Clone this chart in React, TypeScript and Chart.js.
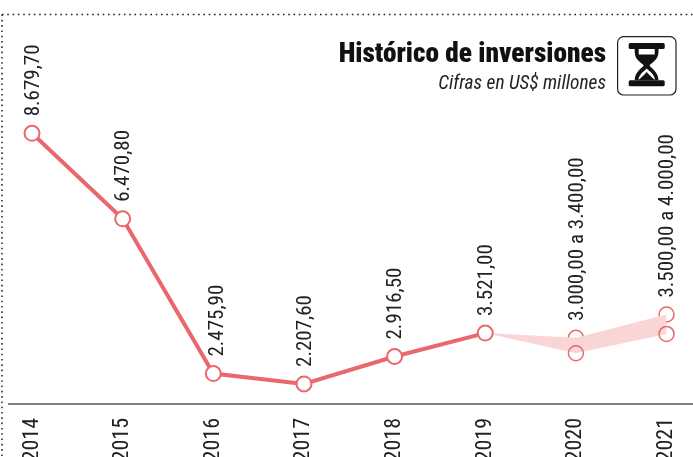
import React, { useEffect, useRef } from "react";
import { Chart, registerables } from "chart.js";

Chart.register(...registerables);

const years = [2014, 2015, 2016, 2017, 2018, 2019, 2020, 2021];
const actualValues = [8679.7, 6470.8, 2475.9, 2207.6, 2916.5, 3521.0];
const rangeYears = [2019, 2020, 2021];
const rangeLow = [3521.0, 3000.0, 3500.0];
const rangeHigh = [3521.0, 3400.0, 4000.0];
const valueLabels = [
  "8.679,70",
  "6.470,80",
  "2.475,90",
  "2.207,60",
  "2.916,50",
  "3.521,00",
  "3.000,00 a 3.400,00",
  "3.500,00 a 4.000,00",
];
const labelAnchors = [8679.7, 6470.8, 2475.9, 2207.6, 2916.5, 3521.0, 3400.0, 4000.0];
const labelShiftX = [0, 0, 3, 0, 0, 0, 0, 0];

const RED = "#e9686d";
const NARROW = '"Roboto Condensed", "Liberation Sans", sans-serif';

const decorPlugin = {
  id: "decor",
  afterDatasetsDraw(chart: any) {
    const { ctx, scales } = chart;
    ctx.save();
    // dotted frame
    ctx.strokeStyle = "#222";
    ctx.lineWidth = 1.5;
    ctx.setLineDash([1.6, 3.7]);
    ctx.beginPath();
    ctx.moveTo(2, 14.5);
    ctx.lineTo(693, 14.5);
    ctx.moveTo(2, 14.5);
    ctx.lineTo(2, 457);
    ctx.stroke();
    ctx.setLineDash([]);
    // value labels, rotated
    ctx.fillStyle = "#222";
    ctx.font = `21px ${NARROW}`;
    ctx.textAlign = "left";
    ctx.textBaseline = "middle";
    valueLabels.forEach((t, i) => {
      const x = scales.x.getPixelForValue(years[i]) + 1.5 + labelShiftX[i];
      const y = scales.y.getPixelForValue(labelAnchors[i]);
      ctx.save();
      ctx.translate(x, y - 17);
      ctx.rotate(-Math.PI / 2);
      ctx.fillText(t, 0, 0);
      ctx.restore();
    });
    ctx.restore();
  },
};

export default function App() {
  const ref = useRef<HTMLCanvasElement>(null);
  useEffect(() => {
    document.body.style.margin = "0";
    document.body.style.background = "#fff";
    const chart = new Chart(ref.current as HTMLCanvasElement, {
      type: "line",
      data: {
        datasets: [
          {
            data: actualValues.map((y, i) => ({ x: years[i], y })),
            borderColor: RED,
            borderWidth: 4,
            backgroundColor: "#ffffff",
            pointBackgroundColor: "#ffffff",
            pointBorderColor: RED,
            pointBorderWidth: 2,
            pointRadius: 7.5,
            tension: 0,
          },
          {
            data: rangeLow.map((y, i) => ({ x: rangeYears[i], y })),
            borderWidth: 0,
            borderColor: "transparent",
            backgroundColor: "#fad5d5",
            fill: "+1",
            pointBackgroundColor: "transparent",
            pointBorderColor: RED,
            pointBorderWidth: 1.5,
            pointRadius: [0, 7.5, 7.5],
            tension: 0,
          },
          {
            data: rangeHigh.map((y, i) => ({ x: rangeYears[i], y })),
            borderWidth: 0,
            borderColor: "transparent",
            backgroundColor: "#fad5d5",
            pointBackgroundColor: "transparent",
            pointBorderColor: RED,
            pointBorderWidth: 1.5,
            pointRadius: [0, 7.5, 7.5],
            tension: 0,
          },
        ],
      } as any,
      options: {
        animation: false,
        responsive: false,
        layout: { autoPadding: false, padding: { left: 9, right: 0, top: 0, bottom: 0 } },
        plugins: { legend: { display: false }, tooltip: { enabled: false } },
        scales: {
          x: {
            type: "linear",
            min: 2013.746,
            max: 2021.292,
            afterBuildTicks(axis: any) {
              axis.ticks = years.map((value) => ({ value }));
            },
            afterFit(axis: any) {
              axis.height = 53;
              axis.paddingLeft = 0;
              axis.paddingRight = 0;
            },
            grid: { display: false, drawTicks: false },
            border: { display: true, color: "#808080", width: 2 },
            ticks: {
              autoSkip: false,
              minRotation: 90,
              maxRotation: 90,
              padding: 14,
              color: "#222",
              font: { family: NARROW, size: 22 },
              callback: (v: any) => String(v),
            },
          },
          y: { display: false, min: 1690, max: 12122 },
        },
      } as any,
      plugins: [decorPlugin],
    });
    return () => chart.destroy();
  }, []);

  return (
    <div style={{ position: "relative", width: 693, height: 457, overflow: "hidden" }}>
      <canvas ref={ref} width={693} height={457} style={{ display: "block" }} />
      <div
        style={{
          position: "absolute",
          right: 87,
          top: 37,
          fontFamily: NARROW,
          fontWeight: 900,
          fontSize: 27.3,
          lineHeight: "32px",
          color: "#111",
          whiteSpace: "nowrap",
        }}
      >
        Histórico de inversiones
      </div>
      <div
        style={{
          position: "absolute",
          right: 87,
          top: 73,
          fontFamily: NARROW,
          fontStyle: "italic",
          fontSize: 19.4,
          lineHeight: "20px",
          color: "#222",
          whiteSpace: "nowrap",
        }}
      >
        Cifras en US$ millones
      </div>
      <svg
        width="60"
        height="60"
        viewBox="0 0 60 60"
        style={{ position: "absolute", left: 617, top: 36 }}
      >
        <rect x="0.6" y="0.6" width="58.4" height="58.4" rx="6" fill="#fff" stroke="#222" strokeWidth="1.2" />
        <rect x="11.7" y="7" width="36" height="6" rx="1.5" fill="#111" />
        <rect x="11.7" y="44.3" width="36" height="6" rx="1.5" fill="#111" />
        <path
          d="M17.7 13 H41.5 V16 C41.5 24 34 27 32.5 29.5 C34 32 41.5 36 41.5 44.3 H17.7 C17.7 36 25 32 26.8 29.5 C25 27 17.7 24 17.7 16 Z"
          fill="#111"
        />
        <path d="M21.7 13 H37.7 V18.5 H21.7 Z" fill="#fff" />
        <path d="M29.7 32.5 C33 36 37.5 38 38 44 C35 41.5 33 40 29.7 36 C26.5 40 24 41.5 21.5 44 C22 38 26.5 36 29.7 32.5 Z" fill="#fff" />
      </svg>
    </div>
  );
}
